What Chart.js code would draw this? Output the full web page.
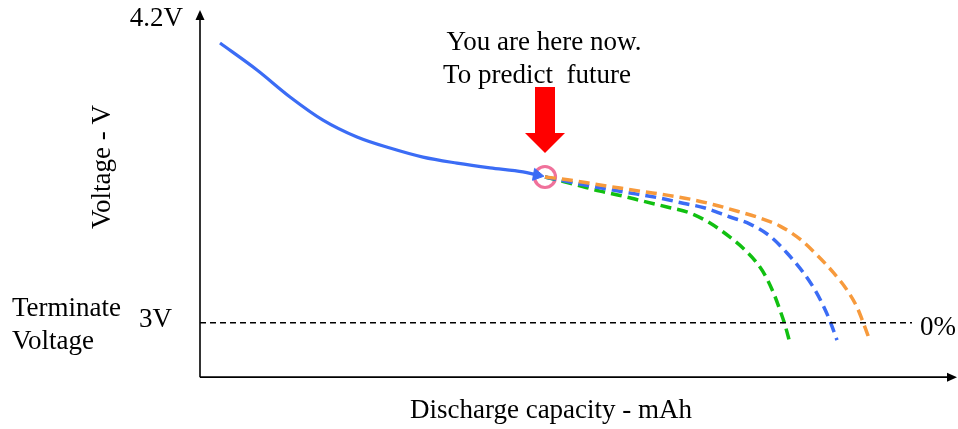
<!DOCTYPE html>
<html><head><meta charset="utf-8">
<script src="https://cdn.jsdelivr.net/npm/chart.js@4"></script>
<style>html,body{margin:0;padding:0;background:#fff;}#wrap{width:958px;height:429px;}</style>
</head><body><div id="wrap"><canvas id="c" width="958" height="429"></canvas></div>
<script>
// ---- data (capacity in arbitrary mAh units, voltage in V) ----
const pastCap   = [20, 57, 90, 123, 157, 190, 223, 257, 290, 323, 337];
const pastVolt  = [4.111, 4.004, 3.897, 3.805, 3.738, 3.694, 3.658, 3.634, 3.615, 3.599, 3.587];
const greenCap  = [345, 377, 400, 423, 443, 467, 490, 510, 530, 545, 557, 566, 574, 580, 585, 590];
const greenVolt = [3.579, 3.547, 3.523, 3.503, 3.483, 3.460, 3.436, 3.396, 3.340, 3.289, 3.237, 3.182, 3.114, 3.050, 2.991, 2.919];
const blueCap   = [345, 390, 413, 437, 460, 483, 505, 530, 550, 570, 587, 603, 615, 623, 630, 637];
const blueVolt  = [3.579, 3.543, 3.527, 3.511, 3.495, 3.475, 3.456, 3.420, 3.392, 3.344, 3.277, 3.201, 3.130, 3.070, 3.007, 2.931];
const orangeCap = [345, 373, 397, 420, 443, 467, 490, 513, 540, 560, 580, 600, 617, 633, 647, 657, 663, 670];
const orangeVolt= [3.579, 3.565, 3.549, 3.535, 3.521, 3.507, 3.491, 3.470, 3.440, 3.416, 3.384, 3.332, 3.269, 3.201, 3.130, 3.062, 3.003, 2.927];
const nowPoint  = [345, 3.579];
const termVolt  = 3.0;
const termCapEnd = 712;
const yTickLabels = ["4.2V", "3V"];
const yTickValues = [4.2, 3.0];
const texts = {
  yTitle: "Voltage - V",
  xTitle: "Discharge capacity - mAh",
  note1: "You are here now.",
  note2: "To predict  future",
  term1: "Terminate",
  term2: "Voltage",
  zero: "0%"
};

const pts = (xs, ys) => xs.map((x, i) => ({x, y: ys[i]}));
const FONT = '"Liberation Serif", "Times New Roman", serif';

const overlay = {
  id: 'overlay',
  afterDatasetsDraw(chart) {
    const ctx = chart.ctx, xs = chart.scales.x, ys = chart.scales.y;
    const X = v => xs.getPixelForValue(v), Y = v => ys.getPixelForValue(v);
    ctx.save();
    // axes
    const x0 = X(0), yB = Y(2.784), yT = Y(4.242), xR = X(757);
    ctx.strokeStyle = '#000'; ctx.fillStyle = '#000'; ctx.lineWidth = 1.6;
    ctx.beginPath(); ctx.moveTo(x0, yB); ctx.lineTo(x0, yT + 8); ctx.stroke();
    ctx.beginPath(); ctx.moveTo(x0, yT); ctx.lineTo(x0 - 4.5, yT + 10); ctx.lineTo(x0 + 4.5, yT + 10); ctx.closePath(); ctx.fill();
    ctx.beginPath(); ctx.moveTo(x0, yB); ctx.lineTo(xR - 8, yB); ctx.stroke();
    ctx.beginPath(); ctx.moveTo(xR, yB); ctx.lineTo(xR - 10, yB - 4.5); ctx.lineTo(xR - 10, yB + 4.5); ctx.closePath(); ctx.fill();
    // text
    ctx.font = '27px ' + FONT; ctx.fillStyle = '#000';
    ctx.textBaseline = 'middle';
    ctx.textAlign = 'right';
    ctx.fillText(yTickLabels[0], x0 - 17, Y(yTickValues[0]) - 2);
    ctx.fillText(yTickLabels[1], x0 - 28, Y(yTickValues[1]) - 3);
    ctx.textAlign = 'left';
    ctx.fillText(texts.term1, 12, Y(termVolt) - 14);
    ctx.fillText(texts.term2, 12, Y(termVolt) + 19);
    ctx.fillText(texts.zero, X(termCapEnd) + 8, Y(termVolt) + 5);
    ctx.textAlign = 'center';
    ctx.fillText(texts.xTitle, X(351), 411);
    ctx.fillText(texts.note1, X(344), 43);
    ctx.fillText(texts.note2, X(337), 76);
    ctx.save();
    ctx.translate(103, 167); ctx.rotate(-Math.PI / 2);
    ctx.fillText(texts.yTitle, 0, 0);
    ctx.restore();
    // red arrow
    const ax = X(nowPoint[0]);
    ctx.fillStyle = '#ff0000';
    ctx.beginPath();
    ctx.moveTo(ax - 10, 87); ctx.lineTo(ax + 10, 87); ctx.lineTo(ax + 10, 133);
    ctx.lineTo(ax + 20, 133); ctx.lineTo(ax, 153); ctx.lineTo(ax - 20, 133);
    ctx.lineTo(ax - 10, 133); ctx.closePath(); ctx.fill();
    ctx.restore();
  }
};

const dashed = (data, color) => ({ data, borderColor: color, borderWidth: 3.5, borderDash: [11, 6],
  pointRadius: 0, cubicInterpolationMode: 'monotone' });

new Chart(document.getElementById('c'), {
  type: 'line',
  data: {
    datasets: [
      { data: [{x: 0, y: termVolt}, {x: termCapEnd, y: termVolt}], borderColor: '#000', borderWidth: 1.5, borderDash: [6, 4], pointRadius: 0, tension: 0 },
      dashed(pts(orangeCap, orangeVolt), '#f79a3c'),
      dashed(pts(blueCap, blueVolt), '#3b6cf5'),
      dashed(pts(greenCap, greenVolt), '#11c011'),
      { data: pts(pastCap, pastVolt), borderColor: '#3b6cf5', borderWidth: 3.2, cubicInterpolationMode: 'monotone',
        pointRadius: pastCap.map((_, i) => i === pastCap.length - 1 ? 7 : 0),
        pointStyle: 'triangle', pointRotation: 100,
        pointBackgroundColor: '#3b6cf5', pointBorderColor: '#3b6cf5', pointBorderWidth: 1 },
      { data: [{x: nowPoint[0], y: nowPoint[1]}], showLine: false, pointRadius: 10.5, pointStyle: 'circle',
        pointBorderColor: '#f0719b', pointBorderWidth: 3.2, pointBackgroundColor: 'rgba(0,0,0,0)' }
    ]
  },
  options: {
    responsive: false, animation: false,
    layout: { padding: 0, autoPadding: false },
    plugins: { legend: { display: false }, tooltip: { enabled: false } },
    events: [],
    scales: {
      x: { type: 'linear', min: -200, max: 758, display: false },
      y: { type: 'linear', min: 2.578, max: 4.282, display: false }
    }
  },
  plugins: [overlay]
});
</script></body></html>
